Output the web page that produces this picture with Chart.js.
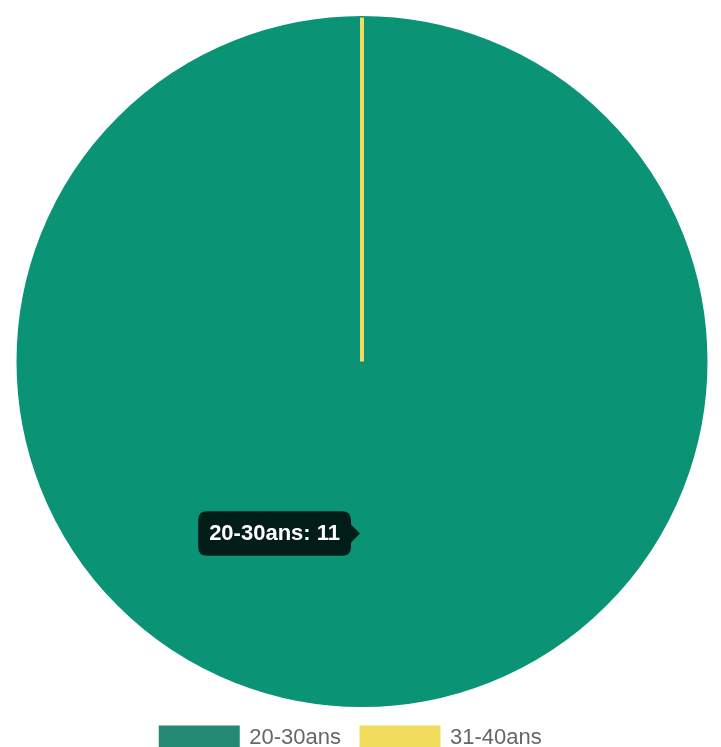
<!DOCTYPE html>
<html>
<head>
<meta charset="utf-8">
<script src="https://cdn.jsdelivr.net/npm/chart.js@4/dist/chart.umd.min.js"></script>
<style>
  html, body { margin: 0; padding: 0; background: #fff; overflow: hidden; }
  #wrap { position: relative; width: 721px; height: 759px; }
</style>
</head>
<body>
<div id="wrap"><canvas id="myChart"></canvas></div>
<script>
// tranches d'age et nombre de personnes
const categories = ["20-30ans", "31-40ans"];
const values = [11, 0];
const colors = ["#248a74", "#f1dc5e"];

// a zero value arc is skipped by Chart.js v4, the old chart still drew its border as a line
const zeroSlicePlugin = {
    id: "zeroSlice",
    afterLayout(chart) {
        // legend sits a bit left of center in the original
        chart.legend.left -= 11;
        chart.legend.right -= 11;
    },
    afterDatasetsDraw(chart) {
        const meta = chart.getDatasetMeta(0);
        const ctx = chart.ctx;
        meta.data.forEach((arc, i) => {
            if (arc.circumference !== 0) return;
            const r = arc.outerRadius;
            ctx.save();
            ctx.strokeStyle = colors[i];
            ctx.lineWidth = 4;
            ctx.beginPath();
            ctx.moveTo(arc.x, arc.y);
            ctx.lineTo(arc.x + r * Math.cos(arc.startAngle), arc.y + r * Math.sin(arc.startAngle));
            ctx.stroke();
            ctx.restore();
        });
    }
};

const ctx = document.getElementById("myChart").getContext("2d");
const myChart = new Chart(ctx, {
    type: "pie",
    data: {
        labels: categories,
        datasets: [{
            data: values,
            backgroundColor: colors,
            borderColor: colors,
            borderWidth: 3,
        }, ],
    },
    options: {
        responsive: true,
        maintainAspectRatio: false,
        animation: false,
        layout: {
            padding: { top: 16, left: 3 }
        },
        plugins: {
            legend: {
                position: "bottom",
                labels: {
                    boxWidth: 78,
                    padding: 20,
                    color: "#666",
                    font: { family: "'Liberation Sans', Arial, sans-serif", size: 22 }
                }
            },
            tooltip: {
                backgroundColor: "rgba(0,0,0,0.8)",
                bodyFont: { family: "'Liberation Sans', Arial, sans-serif", size: 22, weight: "bold" },
                bodyColor: "#fff",
                padding: { x: 11, y: 9 },
                caretSize: 9,
                cornerRadius: 9,
                displayColors: false,
                xAlign: "right",
                callbacks: {
                    title: () => "",
                    label: (item) => item.label + ": " + item.formattedValue
                }
            }
        }
    },
    plugins: [zeroSlicePlugin]
});

const active = [{ datasetIndex: 0, index: 0 }];
myChart.setActiveElements(active);
myChart.tooltip.setActiveElements(active, { x: 0, y: 0 });
myChart.update();
</script>
</body>
</html>
